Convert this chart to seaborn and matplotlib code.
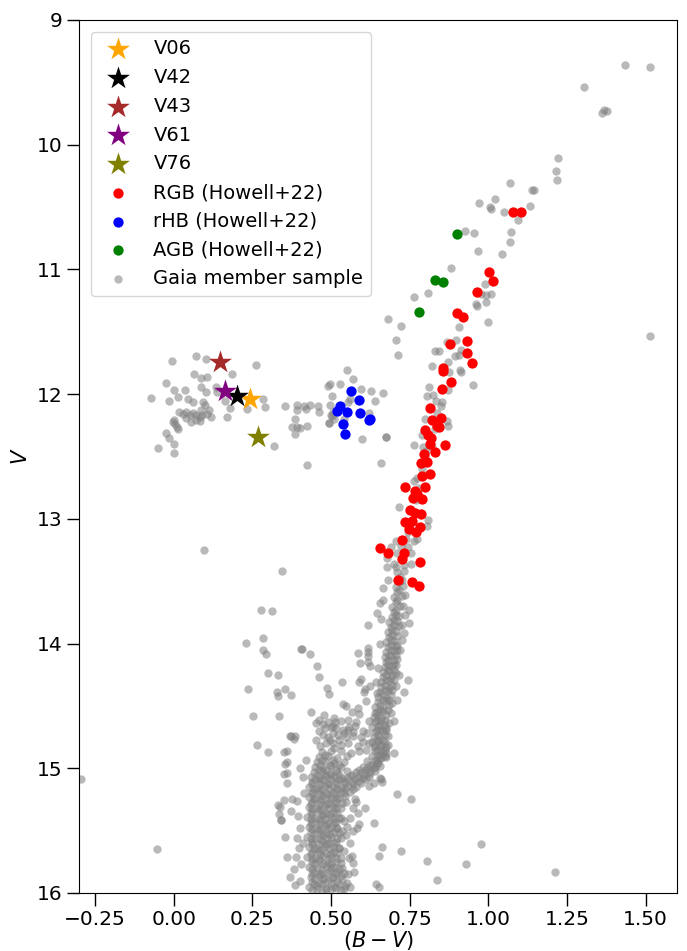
import numpy as np
import matplotlib
matplotlib.use("Agg")
import matplotlib.pyplot as plt
import seaborn as sns

# ---------------- data (B-V, V) ----------------
star_names = ["V06", "V42", "V43", "V61", "V76"]
star_colors = ["orange", "black", "brown", "purple", "olive"]
star_bv = [0.242, 0.202, 0.147, 0.162, 0.268]
star_v = [12.04, 12.018, 11.74, 11.973, 12.34]

rgb_bv = [1.079, 1.104, 1.002, 1.014, 0.963, 0.899, 0.921, 0.879, 0.933, 0.931,
          0.948, 0.855, 0.855, 0.882, 0.853, 0.815, 0.851, 0.822, 0.836, 0.842,
          0.800, 0.808, 0.817, 0.814, 0.861, 0.831, 0.796, 0.787, 0.806, 0.815,
          0.788, 0.735, 0.798, 0.766, 0.772, 0.762, 0.790, 0.750, 0.785, 0.767,
          0.735, 0.756, 0.748, 0.783, 0.769, 0.727, 0.656, 0.682, 0.732, 0.727,
          0.783, 0.714, 0.757, 0.780]
rgb_v = [10.537, 10.542, 11.018, 11.096, 11.184, 11.352, 11.379, 11.596, 11.574, 11.670,
         11.750, 11.790, 11.812, 11.900, 11.960, 12.114, 12.190, 12.205, 12.253, 12.266,
         12.285, 12.328, 12.355, 12.400, 12.408, 12.467, 12.480, 12.553, 12.547, 12.640,
         12.660, 12.747, 12.747, 12.774, 12.800, 12.833, 12.840, 12.927, 12.960, 12.956,
         13.028, 13.015, 13.080, 13.068, 13.108, 13.167, 13.230, 13.274, 13.277, 13.320,
         13.350, 13.488, 13.504, 13.539]

rhb_bv = [0.5625, 0.589, 0.520, 0.529, 0.550, 0.592, 0.619, 0.624, 0.538, 0.545]
rhb_v = [11.978, 12.045, 12.133, 12.098, 12.146, 12.152, 12.208, 12.200, 12.240, 12.320]

agb_bv = [0.9015, 0.8306, 0.857, 0.780]
agb_v = [10.716, 11.087, 11.104, 11.339]

# Gaia member sample
gaia_upper = [(1.433, 9.358), (1.514, 9.380), (1.305, 9.537), (1.360, 9.743), (1.368, 9.720),
              (1.376, 9.727), (1.223, 10.109), (1.214, 10.208), (1.219, 10.283), (1.068, 10.310),
              (1.138, 10.363), (1.146, 10.366), (0.970, 10.470), (1.020, 10.433), (1.004, 10.497),
              (1.010, 10.516), (1.051, 10.542), (1.133, 10.490), (1.093, 10.606), (0.926, 10.695),
              (0.955, 10.711), (1.071, 10.700), (1.068, 10.778), (0.967, 10.855), (1.045, 10.876),
              (0.880, 10.989), (0.990, 11.115), (0.809, 11.187), (0.764, 11.224), (0.991, 11.203),
              (1.007, 11.200), (0.976, 11.200), (0.991, 11.264), (0.960, 11.277), (0.963, 11.296),
              (0.682, 11.400), (0.721, 11.452), (0.999, 11.420), (0.907, 11.464), (1.514, 11.532)]

gaia_rgb = [(0.707, 11.564), (0.713, 11.686), (0.870, 11.580), (0.896, 11.564), (0.829, 11.657),
            (0.843, 11.652), (0.893, 11.692), (0.907, 11.686), (0.912, 11.644), (0.873, 11.740),
            (0.820, 11.777), (0.910, 11.804), (0.914, 11.825), (0.875, 11.825), (0.950, 11.927),
            (0.812, 11.945), (0.872, 11.965), (0.664, 11.994), (0.806, 12.018), (0.825, 12.005),
            (0.833, 12.053), (0.854, 12.066), (0.849, 12.098), (0.800, 12.200), (0.838, 12.154),
            (0.867, 12.213), (0.872, 12.253), (0.674, 12.342), (0.764, 12.408), (0.658, 12.553),
            (0.793, 12.427), (0.803, 12.454), (0.764, 12.697), (0.774, 12.675), (0.717, 12.903),
            (0.809, 13.010), (0.804, 13.060), (0.762, 12.935), (0.774, 13.162), (0.764, 13.176),
            (0.743, 13.108), (0.737, 13.162), (0.705, 13.176), (0.721, 13.216), (0.743, 13.229),
            (0.753, 13.270), (0.690, 13.229), (0.711, 13.270), (0.679, 13.310), (0.700, 13.363),
            (0.732, 13.370), (0.753, 13.363), (0.830, 12.280), (0.815, 12.350), (0.800, 12.500),
            (0.790, 12.600), (0.780, 12.750), (0.770, 12.850), (0.790, 12.330), (0.820, 12.420)]

gaia_hb = [(-0.005, 11.735), (0.071, 11.695), (0.101, 11.721), (0.260, 11.767), (0.186, 11.841),
           (0.063, 11.839), (0.085, 11.868), (0.106, 11.860), (-0.026, 11.913), (0.000, 11.967),
           (0.037, 11.967), (0.087, 11.945), (0.103, 11.981), (0.135, 11.940), (0.138, 11.980),
           (-0.074, 12.029), (-0.014, 12.055), (0.013, 12.026), (0.045, 12.042), (0.060, 12.061),
           (0.092, 12.061), (0.098, 12.087), (0.164, 12.053), (0.179, 12.114), (0.283, 12.042),
           (0.291, 12.101), (0.233, 12.122), (0.111, 12.127), (0.105, 12.160), (0.119, 12.186),
           (0.016, 12.141), (0.029, 12.160), (0.039, 12.141), (0.050, 12.168), (0.060, 12.149),
           (0.071, 12.168), (0.082, 12.181), (0.090, 12.168), (0.087, 12.127), (0.039, 12.194),
           (0.055, 12.221), (0.082, 12.213), (0.069, 12.208), (0.170, 12.186), (-0.003, 12.221),
           (0.005, 12.240), (0.002, 12.208), (0.010, 12.266), (0.013, 12.282), (-0.024, 12.310),
           (-0.016, 12.355), (0.002, 12.403), (-0.049, 12.435), (0.002, 12.475), (0.320, 12.416),
           (0.353, 12.098), (0.386, 12.200), (0.377, 12.261), (0.393, 12.261), (0.402, 12.274),
           (0.423, 12.258), (0.385, 12.320), (0.425, 12.566), (0.391, 12.087), (0.393, 12.125),
           (0.414, 12.093), (0.419, 12.120), (0.433, 12.085), (0.457, 12.093), (0.462, 12.141),
           (0.551, 11.807), (0.571, 11.879), (0.527, 11.919), (0.495, 11.919), (0.489, 11.935),
           (0.595, 11.959), (0.627, 11.975), (0.502, 12.015), (0.560, 12.039), (0.553, 12.061),
           (0.640, 12.055), (0.495, 12.087), (0.505, 12.141), (0.500, 12.168), (0.620, 12.154),
           (0.493, 12.234), (0.675, 12.342), (0.599, 12.363), (0.504, 12.173), (0.541, 12.200),
           (0.510, 12.200), (0.494, 12.232)]

gaia_mid = [(0.097, 13.253), (0.343, 13.421), (0.276, 13.731), (0.311, 13.737), (0.283, 13.953),
            (0.231, 13.998), (0.285, 14.052), (0.294, 14.084), (0.404, 14.044), (0.409, 14.044),
            (0.433, 14.084), (0.456, 14.178), (0.298, 14.239), (0.332, 14.255), (0.463, 14.271),
            (0.235, 14.365), (0.327, 14.391), (0.330, 14.423), (0.355, 14.365), (0.373, 14.413),
            (0.488, 14.359), (0.494, 14.405), (0.536, 14.309), (0.586, 14.076), (0.592, 14.157),
            (0.616, 14.151), (0.618, 13.852), (0.618, 14.038), (0.618, 14.070), (0.618, 14.103),
            (0.624, 14.178), (0.596, 14.285), (0.589, 14.311), (0.624, 14.338), (0.605, 14.391),
            (0.607, 14.365), (0.610, 14.459), (0.539, 14.485), (0.546, 14.504), (0.586, 14.520),
            (0.589, 14.565), (0.565, 14.552), (0.435, 14.549), (0.478, 14.573), (0.253, 14.579),
            (0.335, 14.584), (0.510, 14.600), (0.654, 13.678), (0.645, 13.758), (0.664, 13.557),
            (0.680, 13.490), (0.677, 13.384), (0.707, 13.384), (0.736, 13.611), (0.747, 13.731),
            (0.747, 13.838), (0.736, 13.772), (0.726, 13.972), (0.733, 13.918), (0.744, 14.293),
            (0.733, 14.391), (0.643, 14.306), (0.452, 14.640), (0.473, 14.645), (0.505, 14.662),
            (0.558, 14.667)]

gaia_low = [(-0.296, 15.086), (-0.055, 15.648), (0.266, 14.814), (0.298, 14.868), (0.372, 14.739),
            (0.385, 14.744), (0.383, 14.766), (0.351, 14.872), (0.359, 14.860), (0.359, 14.953),
            (0.353, 14.966), (0.351, 15.046), (0.359, 15.041), (0.361, 15.121), (0.330, 15.295),
            (0.351, 15.255), (0.335, 15.367), (0.342, 15.413), (0.377, 15.247), (0.391, 15.261),
            (0.372, 15.341), (0.353, 15.554), (0.359, 15.710), (0.370, 15.870), (0.385, 15.937),
            (0.635, 15.442), (0.642, 15.928), (0.653, 15.700), (0.658, 15.086), (0.711, 15.209),
            (0.753, 15.247), (0.661, 15.630), (0.721, 15.667), (0.976, 15.610), (0.806, 15.747),
            (0.928, 15.771), (0.836, 15.894), (1.213, 15.832), (0.653, 15.955), (0.368, 14.742),
            (0.338, 15.314), (0.341, 15.415), (0.391, 15.562), (0.397, 15.637), (0.389, 15.710),
            (0.383, 15.808), (0.699, 14.876), (0.673, 14.900), (0.580, 15.268), (0.608, 15.322),
            (0.585, 15.362), (0.590, 15.447), (0.581, 15.482), (0.548, 15.268), (0.550, 15.469),
            (0.546, 15.536), (0.558, 15.723), (0.569, 15.763), (0.574, 15.830), (0.654, 15.081),
            (0.662, 15.108), (0.638, 15.121), (0.622, 15.143), (0.452, 14.770), (0.473, 14.730),
            (0.495, 14.770), (0.506, 14.800), (0.532, 14.810), (0.548, 14.750), (0.564, 14.880),
            (0.590, 14.860), (0.500, 14.667), (0.511, 14.627), (0.537, 14.693), (0.553, 14.693),
            (0.569, 14.707), (0.580, 14.627), (0.595, 14.747), (0.505, 14.720), (0.521, 14.734),
            (0.395, 15.380), (0.400, 15.480), (0.410, 15.600), (0.405, 15.770), (0.400, 15.900),
            (0.415, 15.200), (0.410, 15.070), (0.400, 15.000), (0.420, 14.930), (0.560, 15.600),
            (0.565, 15.700), (0.555, 15.850), (0.560, 15.950), (0.570, 15.500), (0.560, 15.400),
            (0.575, 15.250), (0.570, 15.320)]

gaia_ms = [(0.440, 15.98), (0.470, 15.99), (0.500, 15.97), (0.530, 15.98),
           (0.430, 15.95), (0.455, 15.94), (0.485, 15.96), (0.510, 15.95), (0.545, 15.94),
           (0.440, 15.91), (0.465, 15.92), (0.490, 15.90), (0.520, 15.91), (0.550, 15.92),
           (0.435, 15.87), (0.460, 15.86), (0.480, 15.88), (0.505, 15.87), (0.530, 15.86),
           (0.445, 15.83), (0.470, 15.84), (0.495, 15.82), (0.520, 15.83), (0.540, 15.84),
           (0.430, 15.79), (0.455, 15.80), (0.485, 15.78), (0.510, 15.79), (0.535, 15.80),
           (0.440, 15.75), (0.465, 15.74), (0.490, 15.76), (0.515, 15.75),
           (0.425, 15.71), (0.450, 15.72), (0.475, 15.70), (0.500, 15.71), (0.530, 15.72),
           (0.440, 15.67), (0.460, 15.66), (0.485, 15.68), (0.510, 15.67), (0.540, 15.66),
           (0.430, 15.63), (0.455, 15.64), (0.480, 15.62), (0.505, 15.63), (0.525, 15.64),
           (0.440, 15.59), (0.470, 15.58), (0.490, 15.60), (0.515, 15.59),
           (0.425, 15.55), (0.450, 15.56), (0.475, 15.54), (0.500, 15.55), (0.530, 15.56),
           (0.435, 15.51), (0.460, 15.50), (0.485, 15.52), (0.510, 15.51), (0.535, 15.50),
           (0.430, 15.47), (0.455, 15.48), (0.480, 15.46), (0.500, 15.47), (0.520, 15.48),
           (0.440, 15.43), (0.465, 15.42), (0.490, 15.44), (0.515, 15.43), (0.540, 15.42),
           (0.425, 15.39), (0.450, 15.40), (0.475, 15.38), (0.500, 15.39), (0.525, 15.40),
           (0.435, 15.35), (0.460, 15.34), (0.485, 15.36), (0.510, 15.35),
           (0.430, 15.31), (0.455, 15.32), (0.480, 15.30), (0.505, 15.31), (0.530, 15.32),
           (0.440, 15.27), (0.465, 15.26), (0.490, 15.28), (0.515, 15.27),
           (0.430, 15.23), (0.450, 15.24), (0.475, 15.22), (0.500, 15.23), (0.525, 15.24), (0.545, 15.22),
           (0.440, 15.19), (0.460, 15.18), (0.485, 15.20), (0.510, 15.19), (0.535, 15.18), (0.560, 15.19),
           (0.430, 15.15), (0.455, 15.16), (0.480, 15.14), (0.505, 15.15), (0.530, 15.16), (0.555, 15.14),
           (0.580, 15.15),
           (0.440, 15.11), (0.465, 15.10), (0.490, 15.12), (0.515, 15.11), (0.540, 15.10), (0.565, 15.11),
           (0.590, 15.10), (0.610, 15.09),
           (0.435, 15.07), (0.460, 15.08), (0.485, 15.06), (0.510, 15.07), (0.535, 15.08), (0.560, 15.06),
           (0.585, 15.07), (0.605, 15.05), (0.625, 15.04),
           (0.445, 15.03), (0.470, 15.02), (0.495, 15.04), (0.520, 15.03), (0.550, 15.02), (0.580, 15.03),
           (0.610, 15.01), (0.635, 15.00),
           (0.450, 14.99), (0.475, 15.00), (0.500, 14.98), (0.530, 14.99), (0.600, 14.99), (0.625, 14.97),
           (0.645, 14.96),
           (0.455, 14.95), (0.480, 14.94), (0.510, 14.96), (0.540, 14.95), (0.615, 14.94), (0.640, 14.93),
           (0.655, 14.92),
           (0.460, 14.91), (0.490, 14.90), (0.520, 14.92), (0.630, 14.90), (0.650, 14.89), (0.665, 14.88),
           (0.470, 14.87), (0.500, 14.86), (0.640, 14.86), (0.660, 14.85),
           (0.635, 14.83), (0.655, 14.82), (0.675, 14.83),
           (0.630, 14.79), (0.650, 14.78), (0.670, 14.80),
           (0.635, 14.75), (0.655, 14.76), (0.680, 14.74),
           (0.640, 14.71), (0.665, 14.70),
           (0.630, 14.67), (0.650, 14.66), (0.675, 14.68),
           (0.640, 14.63), (0.660, 14.62), (0.685, 14.64),
           (0.635, 14.59), (0.660, 14.60),
           (0.645, 14.55), (0.665, 14.54), (0.690, 14.56),
           (0.640, 14.51), (0.665, 14.52),
           (0.650, 14.47), (0.675, 14.46), (0.695, 14.48),
           (0.650, 14.43), (0.675, 14.44),
           (0.655, 14.39), (0.680, 14.38),
           (0.660, 14.35), (0.685, 14.36), (0.705, 14.34),
           (0.660, 14.31), (0.685, 14.30),
           (0.665, 14.27), (0.690, 14.28),
           (0.665, 14.23), (0.685, 14.22), (0.705, 14.24),
           (0.670, 14.19), (0.695, 14.18),
           (0.675, 14.15), (0.700, 14.16),
           (0.670, 14.11), (0.690, 14.10), (0.710, 14.12),
           (0.675, 14.07), (0.700, 14.06),
           (0.680, 14.03), (0.705, 14.02),
           (0.675, 13.99), (0.700, 13.98),
           (0.685, 13.95), (0.710, 13.94),
           (0.680, 13.91), (0.705, 13.90),
           (0.690, 13.87), (0.715, 13.86),
           (0.685, 13.83), (0.710, 13.82),
           (0.695, 13.79), (0.715, 13.78),
           (0.700, 13.75),
           (0.695, 13.71), (0.720, 13.70),
           (0.705, 13.67),
           (0.700, 13.63), (0.725, 13.62),
           (0.710, 13.59),
           (0.705, 13.55), (0.728, 13.54),
           (0.715, 13.51),
           (0.720, 13.47),
           (0.708, 13.43), (0.732, 13.42)]

# second pass over the crowded turn-off / sub-giant / lower RGB region
gaia_ms2 = [(0.455, 15.97), (0.485, 15.97), (0.515, 15.96), (0.540, 15.97),
            (0.445, 15.93), (0.470, 15.93), (0.500, 15.92), (0.525, 15.93),
            (0.450, 15.89), (0.475, 15.89), (0.505, 15.88), (0.535, 15.89),
            (0.440, 15.85), (0.465, 15.85), (0.490, 15.84), (0.515, 15.85),
            (0.440, 15.81), (0.470, 15.81), (0.500, 15.80), (0.525, 15.81),
            (0.450, 15.77), (0.475, 15.77), (0.500, 15.77), (0.530, 15.76),
            (0.440, 15.73), (0.460, 15.73), (0.490, 15.73), (0.515, 15.72),
            (0.435, 15.69), (0.465, 15.69), (0.495, 15.69), (0.520, 15.68),
            (0.445, 15.65), (0.470, 15.65), (0.495, 15.65), (0.525, 15.64),
            (0.440, 15.61), (0.460, 15.61), (0.485, 15.61), (0.510, 15.60),
            (0.435, 15.57), (0.465, 15.57), (0.490, 15.57), (0.520, 15.56),
            (0.445, 15.53), (0.470, 15.53), (0.495, 15.53), (0.525, 15.52),
            (0.440, 15.49), (0.465, 15.49), (0.490, 15.49), (0.515, 15.48),
            (0.435, 15.45), (0.460, 15.45), (0.485, 15.45), (0.510, 15.44),
            (0.435, 15.41), (0.460, 15.41), (0.480, 15.41), (0.505, 15.41), (0.530, 15.40),
            (0.440, 15.37), (0.470, 15.37), (0.495, 15.37), (0.520, 15.36),
            (0.440, 15.33), (0.465, 15.33), (0.490, 15.33), (0.515, 15.32),
            (0.435, 15.29), (0.460, 15.29), (0.485, 15.29), (0.510, 15.29), (0.535, 15.28),
            (0.445, 15.25), (0.470, 15.25), (0.495, 15.25), (0.520, 15.24),
            (0.440, 15.21), (0.465, 15.21), (0.490, 15.21), (0.515, 15.21), (0.540, 15.20),
            (0.445, 15.17), (0.470, 15.17), (0.495, 15.17), (0.520, 15.17), (0.545, 15.16), (0.570, 15.17),
            (0.440, 15.13), (0.465, 15.13), (0.490, 15.13), (0.520, 15.13), (0.545, 15.12), (0.570, 15.13),
            (0.595, 15.12),
            (0.450, 15.09), (0.475, 15.09), (0.500, 15.09), (0.525, 15.09), (0.550, 15.08), (0.575, 15.09),
            (0.600, 15.08), (0.620, 15.07),
            (0.455, 15.05), (0.480, 15.05), (0.500, 15.05), (0.525, 15.05), (0.565, 15.05), (0.595, 15.04),
            (0.620, 15.03), (0.640, 15.02),
            (0.460, 15.01), (0.485, 15.01), (0.515, 15.01), (0.590, 15.01), (0.615, 15.00), (0.640, 14.99),
            (0.655, 14.98),
            (0.465, 14.97), (0.495, 14.97), (0.525, 14.97), (0.630, 14.97), (0.650, 14.96),
            (0.470, 14.93), (0.505, 14.93), (0.645, 14.93), (0.660, 14.92), (0.675, 14.91),
            (0.480, 14.89), (0.655, 14.89), (0.675, 14.88),
            (0.645, 14.85), (0.670, 14.85),
            (0.640, 14.81), (0.660, 14.81), (0.680, 14.81),
            (0.645, 14.77), (0.665, 14.77),
            (0.650, 14.73), (0.670, 14.73),
            (0.645, 14.69), (0.655, 14.69), (0.675, 14.69),
            (0.655, 14.65), (0.670, 14.65),
            (0.645, 14.61), (0.670, 14.61),
            (0.650, 14.57), (0.675, 14.57),
            (0.655, 14.53), (0.680, 14.53),
            (0.655, 14.49), (0.685, 14.49),
            (0.665, 14.45), (0.685, 14.45),
            (0.665, 14.41), (0.690, 14.41),
            (0.670, 14.37), (0.695, 14.37),
            (0.670, 14.33), (0.695, 14.33),
            (0.675, 14.29), (0.700, 14.29),
            (0.675, 14.25), (0.695, 14.25),
            (0.680, 14.21), (0.700, 14.21),
            (0.680, 14.17), (0.705, 14.17),
            (0.680, 14.13), (0.700, 14.13),
            (0.685, 14.09), (0.705, 14.09),
            (0.690, 14.05), (0.710, 14.05),
            (0.690, 14.01), (0.710, 14.01),
            (0.690, 13.97), (0.695, 13.93), (0.695, 13.89), (0.700, 13.85),
            (0.700, 13.81), (0.705, 13.77), (0.705, 13.73), (0.710, 13.65),
            (0.715, 13.57), (0.725, 13.49)]

# sub-giant fan above the turn-off and the edges of the lower RGB
gaia_sgb = [(0.460, 14.70), (0.480, 14.68), (0.490, 14.75), (0.515, 14.68), (0.525, 14.77),
            (0.540, 14.72), (0.555, 14.80), (0.570, 14.74), (0.585, 14.82), (0.600, 14.79),
            (0.610, 14.85), (0.620, 14.80), (0.600, 14.70), (0.575, 14.66), (0.465, 14.82),
            (0.485, 14.80), (0.510, 14.84), (0.530, 14.86), (0.550, 14.90), (0.460, 14.61),
            (0.490, 14.63), (0.530, 14.62), (0.555, 14.61), (0.620, 14.62), (0.615, 14.72),
            (0.645, 14.40), (0.650, 14.20), (0.655, 14.00), (0.660, 13.80), (0.665, 13.65),
            (0.710, 14.45), (0.715, 14.25), (0.720, 14.05), (0.725, 13.85), (0.730, 13.70),
            (0.640, 14.56), (0.700, 14.62)]

# ---------------- plotting ----------------
fig = plt.figure(figsize=(6.87, 9.51), dpi=100)
ax = fig.add_axes([0.1157, 0.061, 0.8698, 0.918])

gaia = np.array(gaia_upper + gaia_rgb + gaia_hb + gaia_mid + gaia_low
                + gaia_ms + gaia_ms2 + gaia_sgb)
sns.scatterplot(x=gaia[:, 0], y=gaia[:, 1], ax=ax, color="gray", alpha=0.55,
                s=36, linewidth=0, label="Gaia member sample", zorder=1)
sns.scatterplot(x=rgb_bv, y=rgb_v, ax=ax, color="red", s=55, linewidth=0,
                label="RGB (Howell+22)", zorder=2)
sns.scatterplot(x=rhb_bv, y=rhb_v, ax=ax, color="blue", s=55, linewidth=0,
                label="rHB (Howell+22)", zorder=2)
sns.scatterplot(x=agb_bv, y=agb_v, ax=ax, color="green", s=55, linewidth=0,
                label="AGB (Howell+22)", zorder=2)
for name, c, bx, vy in zip(star_names, star_colors, star_bv, star_v):
    sns.scatterplot(x=[bx], y=[vy], ax=ax, color=c, marker="*", s=300,
                    linewidth=0, label=name, zorder=3)

ax.set_xlim(-0.3, 1.6)
ax.set_ylim(16, 9)
ax.set_xticks([-0.25, 0.0, 0.25, 0.5, 0.75, 1.0, 1.25, 1.5])
ax.set_yticks([9, 10, 11, 12, 13, 14, 15, 16])
ax.tick_params(axis="both", which="major", direction="out", length=9, width=1,
               labelsize=14.5)
ax.set_xlabel(r"$(B-V)$", fontsize=15, labelpad=0)
ax.set_ylabel(r"$V$", fontsize=15)

handles, labels = ax.get_legend_handles_labels()
order = star_names + ["RGB (Howell+22)", "rHB (Howell+22)", "AGB (Howell+22)",
                      "Gaia member sample"]
hmap = dict(zip(labels, handles))
ax.legend([hmap[k] for k in order], order, loc="upper left", fontsize=14,
          borderaxespad=0.6)

fig.savefig("out.png", dpi=100)
